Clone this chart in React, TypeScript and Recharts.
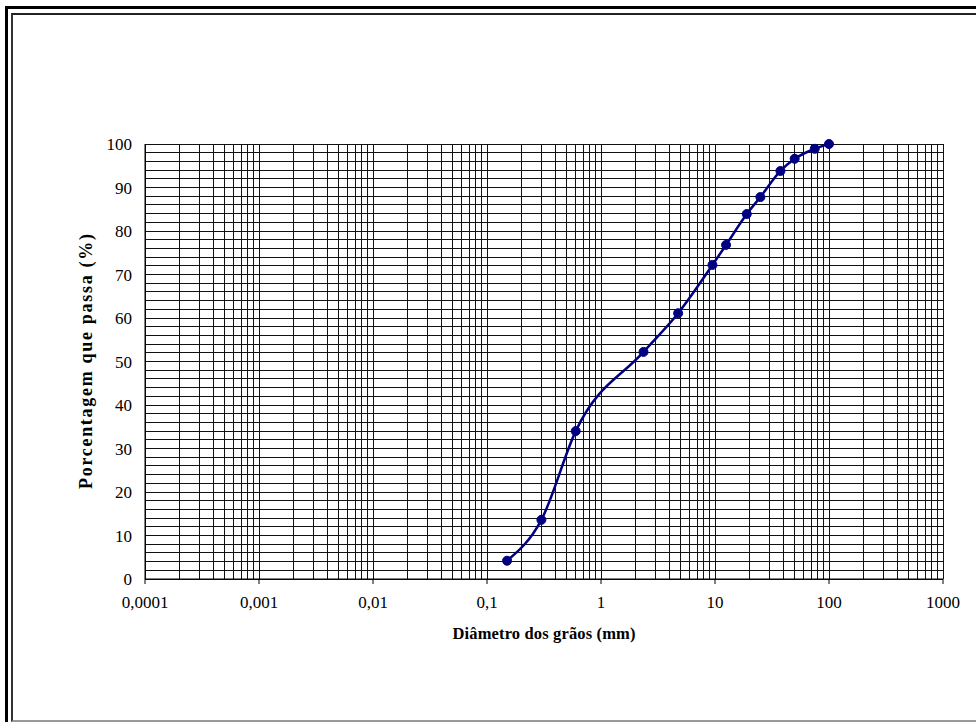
import React from 'react';
import { LineChart, Line, XAxis, YAxis, ReferenceLine, Label } from 'recharts';

// sieve openings (mm) and passing percentage
const diameters = [0.15, 0.3, 0.6, 2.36, 4.75, 9.5, 12.5, 19, 25, 37.5, 50, 75, 100];
const passing = [4.2, 13.6, 34, 52.2, 61.1, 72.2, 76.8, 83.9, 87.8, 93.8, 96.6, 98.9, 100];

const xTicks = [0.0001, 0.001, 0.01, 0.1, 1, 10, 100, 1000];
const xTickLabels = ['0,0001', '0,001', '0,01', '0,1', '1', '10', '100', '1000'];
const yTicks = [0, 10, 20, 30, 40, 50, 60, 70, 80, 90, 100];
const decadeMultipliers = [1, 2, 3, 4, 5, 6, 7, 8, 9];

const data = diameters.map((d, i) => ({ d, p: passing[i] }));

// log grid: every 1..9 x decade, plus the 1000 edge
const xGrid = [
  ...xTicks.slice(0, -1).flatMap((t) => decadeMultipliers.map((m) => +(t * m).toPrecision(3))),
  1000,
];
const yGrid = Array.from({ length: 51 }, (_, i) => i * 2);

const FONT = '"Liberation Serif", "Times New Roman", serif';

const fmtX = (v: number) => {
  const i = xTicks.indexOf(v);
  return i >= 0 ? xTickLabels[i] : '';
};

export default function App() {
  return (
    <div
      style={{
        position: 'absolute',
        left: 0,
        top: 0,
        width: 976,
        height: 722,
        overflow: 'hidden',
        background: '#fff',
      }}
    >
      <div
        style={{
          position: 'absolute',
          left: 5,
          top: 6,
          width: 1100,
          height: 1100,
          border: '3px solid #000',
        }}
      />
      <div
        style={{
          position: 'absolute',
          left: 11,
          top: 13,
          width: 1100,
          height: 705,
          borderLeft: '2px solid #333',
          borderTop: '2px solid #222',
          borderBottom: '2px solid #999',
        }}
      />
      <div style={{ position: 'absolute', left: 0, top: 0 }}>
        <LineChart
          width={976}
          height={722}
          data={data}
          margin={{ top: 144, right: 33, bottom: 83, left: 75 }}
        >
          {yGrid.map((v) => (
            <ReferenceLine key={'h' + v} y={v} stroke="#111" strokeWidth={1} shapeRendering="crispEdges" />
          ))}
          {xGrid.map((v) => (
            <ReferenceLine key={'v' + v} x={v} stroke="#111" strokeWidth={1} shapeRendering="crispEdges" />
          ))}
          <XAxis
            dataKey="d"
            type="number"
            scale="log"
            domain={[0.0001, 1000]}
            ticks={xTicks}
            tickFormatter={fmtX}
            allowDataOverflow
            height={60}
            stroke="#000"
            tickSize={5}
            tickMargin={12}
            tick={{ fill: '#000', fontSize: 17, fontFamily: FONT }}
            interval={0}
          >
            <Label
              content={({ viewBox }: any) => (
                <text
                  x={viewBox.x + viewBox.width / 2}
                  y={viewBox.y + 54}
                  textAnchor="middle"
                  dominantBaseline="central"
                  fontFamily={FONT}
                  fontWeight="bold"
                  fontSize={16.5}
                  textLength={183}
                  lengthAdjust="spacing"
                >
                  Diâmetro dos grãos (mm)
                </text>
              )}
            />
          </XAxis>
          <YAxis
            type="number"
            domain={[0, 100]}
            ticks={yTicks}
            interval={0}
            width={70}
            stroke="#000"
            tickSize={0}
            tickMargin={13}
            tick={{ fill: '#000', fontSize: 17, fontFamily: FONT }}
          >
            <Label
              content={({ viewBox }: any) => {
                const cx = viewBox.x + 11;
                const cy = viewBox.y + viewBox.height / 2;
                return (
                  <text
                    x={cx}
                    y={cy}
                    transform={`rotate(-90 ${cx} ${cy})`}
                    textAnchor="middle"
                    dominantBaseline="central"
                    fontFamily={FONT}
                    fontWeight="bold"
                    fontSize={18}
                    textLength={255}
                    lengthAdjust="spacing"
                  >
                    Porcentagem que passa (%)
                  </text>
                );
              }}
            />
          </YAxis>
          <Line
            dataKey="p"
            type="monotone"
            stroke="#000080"
            strokeWidth={2.5}
            dot={{ r: 4.5, fill: '#000080', stroke: '#000080', strokeWidth: 1 }}
            isAnimationActive={false}
          />
        </LineChart>
      </div>
    </div>
  );
}
